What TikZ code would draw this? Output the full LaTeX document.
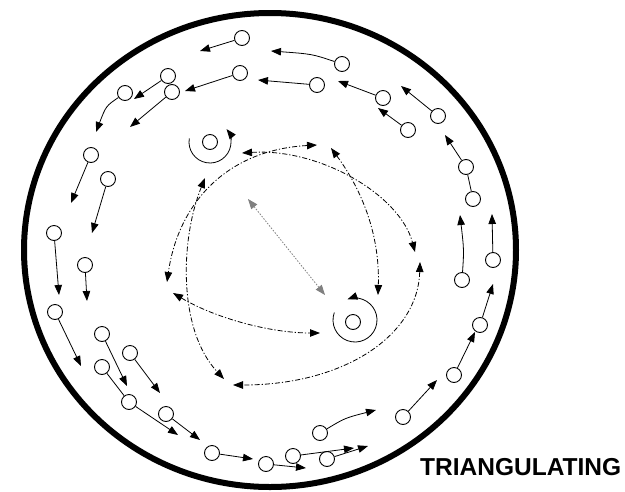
\documentclass[tikz,border=0pt]{standalone}
\usepackage{fontspec}
\newfontfamily\labelfont{Liberation Sans}
\usetikzlibrary{arrows.meta}
\tikzset{
  pt/.style={circle, draw, line width=0.9pt, minimum size=15pt, inner sep=0pt},
  tip/.tip={Triangle[length=10pt,width=7.5pt]},
  arr/.style={line width=0.8pt, -tip},
  link/.style={line width=0.8pt},
  dsh/.style={line width=0.8pt, dash pattern=on 5pt off 2pt on 1.2pt off 2pt, tip-tip},
  dot/.style={line width=0.8pt, gray, dash pattern=on 1.5pt off 1.5pt, tip-tip},
}
\begin{document}
\begin{tikzpicture}[x=1pt, y=-1pt]
\useasboundingbox (0,0) rectangle (625,491);
\fill[white] (0,0) rectangle (625,491);
% outer boundary
\draw[line width=6pt] (270,250) ellipse [x radius=246, y radius=237];

% --- circles (moving points) ---
\node[pt] (A1) at (242,38) {};
\node[pt] (A2) at (342,64) {};
\node[pt] (A3) at (240,73) {};
\node[pt] (A4) at (317,85) {};
\node[pt] (A5) at (383,98) {};
\node[pt] (A6) at (408,130) {};
\node[pt] (A7) at (438,116) {};
\node[pt] (A8) at (466,167) {};
\node[pt] (A9) at (473,199) {};
\node[pt] (B1) at (168,76) {};
\node[pt] (B2) at (172,92) {};
\node[pt] (B3) at (125,93) {};
\node[pt] (B4) at (91,155) {};
\node[pt] (B5) at (108,179) {};
\node[pt] (B6) at (54,233) {};
\node[pt] (B7) at (85,265) {};
\node[pt] (B8) at (55,312) {};
\node[pt] (B9) at (102,334) {};
\node[pt] (B10) at (130,353) {};
\node[pt] (B11) at (102,367) {};
\node[pt] (B12) at (129,402) {};
\node[pt] (B13) at (166,414) {};
\node[pt] (B14) at (212,453) {};
\node[pt] (B15) at (266,464) {};
\node[pt] (B16) at (293,456) {};
\node[pt] (B17) at (327,459) {};
\node[pt] (B18) at (320,433) {};
\node[pt] (C1) at (403,417) {};
\node[pt] (C2) at (454,375) {};
\node[pt] (C3) at (480,325) {};
\node[pt] (C4) at (462,280) {};
\node[pt] (C5) at (493,260) {};

% --- arrow ends ---
\coordinate (a1) at (200,51);
\coordinate (a2) at (271,51);
\coordinate (a3) at (185,91);
\coordinate (a4) at (258,80);
\coordinate (a5) at (338,81);
\coordinate (a6) at (378,108);
\coordinate (a7) at (401,86);
\coordinate (a8) at (445,135);
\coordinate (b1) at (134,99);
\coordinate (b2) at (130,127);
\coordinate (b3) at (96,132);
\coordinate (b4) at (71,203);
\coordinate (b5) at (92,233);
\coordinate (b6) at (59,295);
\coordinate (b7) at (87,301);
\coordinate (b8) at (81,366);
\coordinate (b9) at (127,386);
\coordinate (b10) at (160,393);
\coordinate (b12) at (178,435);
\coordinate (b13) at (200,440);
\coordinate (b14) at (253,459);
\coordinate (b15) at (306,468);
\coordinate (b16) at (354,448);
\coordinate (b17) at (368,446);
\coordinate (b18) at (376,410);
\coordinate (c1) at (437,380);
\coordinate (c2) at (475,332);
\coordinate (c3) at (493,284);
\coordinate (c4) at (460,215);
\coordinate (c5) at (492,214);

\draw[arr] (A1) -- (a1);
\draw[arr] (A2) .. controls (312,54) .. (a2);
\draw[arr] (A3) -- (a3);
\draw[arr] (A4) -- (a4);
\draw[arr] (A5) -- (a5);
\draw[arr] (A6) -- (a6);
\draw[arr] (A7) -- (a7);
\draw[arr] (A8) -- (a8);
\draw[link] (A9) -- (A8);
\draw[arr] (B1) -- (b1);
\draw[arr] (B2) -- (b2);
\draw[arr] (B3) .. controls (106,106) .. (b3);
\draw[arr] (B4) -- (b4);
\draw[arr] (B5) -- (b5);
\draw[arr] (B6) -- (b6);
\draw[arr] (B7) -- (b7);
\draw[arr] (B8) -- (b8);
\draw[arr] (B9) -- (b9);
\draw[arr] (B10) -- (b10);
\draw[link] (B11) -- (B12);
\draw[arr] (B12) -- (b12);
\draw[arr] (B13) -- (b13);
\draw[arr] (B14) -- (b14);
\draw[arr] (B15) -- (b15);
\draw[arr] (B16) -- (b16);
\draw[arr] (B17) -- (b17);
\draw[arr] (B18) .. controls (345,418) .. (b18);
\draw[arr] (C1) -- (c1);
\draw[arr] (C2) -- (c2);
\draw[arr] (C3) -- (c3);
\draw[arr] (C4) .. controls (464,250) .. (c4);
\draw[arr] (C5) -- (c5);

% --- rotating centres ---
\node[pt] (S1) at (210,142) {};
\coordinate (s1c) at (210,142);
\draw[arr] (s1c) ++(190:21) arc[start angle=190, end angle=-38, radius=21];
\node[pt] (S2) at (353,322) {};
\coordinate (s2c) at (355,320);
\draw[arr] (s2c) ++(200:22) arc[start angle=200, end angle=-110, radius=22];

% --- triangulation paths ---
\coordinate (d1a) at (242,153);
\coordinate (d1b) at (415,252);
\coordinate (d2a) at (317,145);
\coordinate (d2b) at (167,282);
\coordinate (d3a) at (331,148);
\coordinate (d3b) at (378,295);
\coordinate (d4a) at (205,178);
\coordinate (d4b) at (224,379);
\coordinate (d5a) at (173,293);
\coordinate (d5b) at (320,333);
\coordinate (d6a) at (420,262);
\coordinate (d6b) at (233,385);
\coordinate (d7a) at (248,199);
\coordinate (d7b) at (325,295);
\draw[dsh] (d1a) .. controls (320,148) and (400,195) .. (d1b);
\draw[dsh] (d2a) .. controls (225,150) and (178,205) .. (d2b);
\draw[dsh] (d3a) .. controls (362,190) and (380,235) .. (d3b);
\draw[dsh] (d4a) .. controls (180,240) and (178,330) .. (d4b);
\draw[dsh] (d5a) .. controls (215,318) and (270,333) .. (d5b);
\draw[dsh] (d6a) .. controls (418,335) and (345,385) .. (d6b);
\draw[dot] (d7a) -- (d7b);

\node[anchor=base west, inner sep=0pt, font=\labelfont\bfseries\fontsize{24.5}{28}\selectfont] (title) at (420,475) {TRIANGULATING};
\end{tikzpicture}
\end{document}
